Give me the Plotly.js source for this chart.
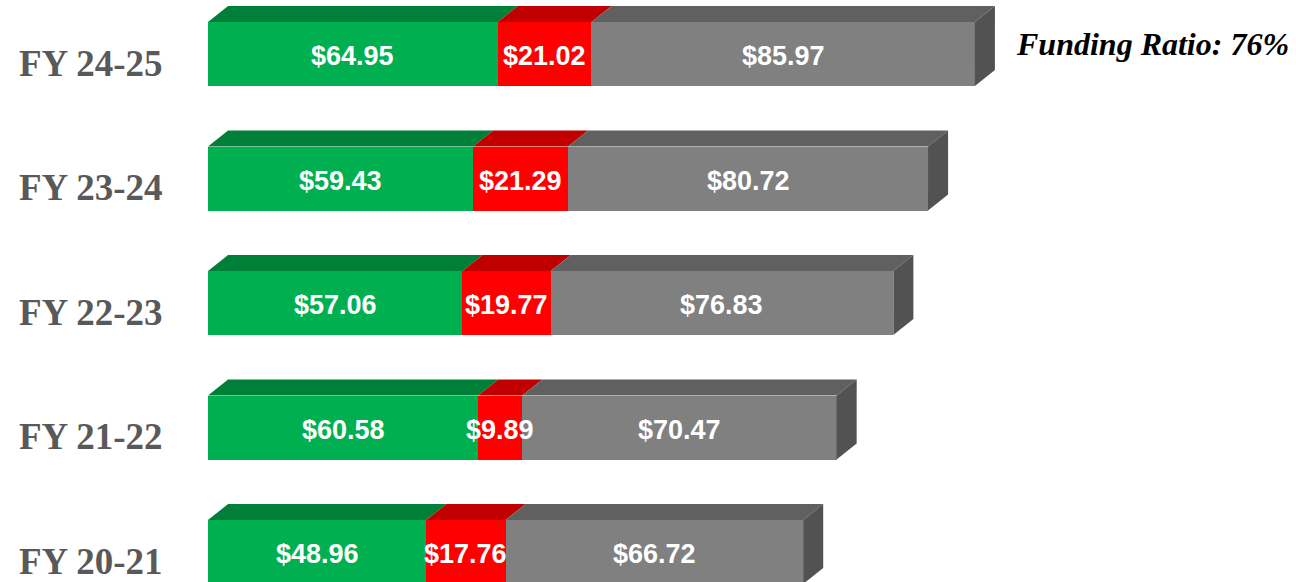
<!DOCTYPE html>
<html>
<head>
<meta charset="utf-8">
<script src="https://cdn.plot.ly/plotly-3.0.1.min.js"></script>
<style>
html,body{margin:0;padding:0;background:#fff;}
#chart{width:1296px;height:582px;}
</style>
</head>
<body>
<div id="chart"></div>
<script>
// ---- Data ----
const categories = ['FY 20-21', 'FY 21-22', 'FY 22-23', 'FY 23-24', 'FY 24-25'];
const assets      = [48.96, 60.58, 57.06, 59.43, 64.95];
const unfunded    = [17.76,  9.89, 19.77, 21.29, 21.02];
const liabilities = [66.72, 70.47, 76.83, 80.72, 85.97];
const fundingRatioText = 'Funding Ratio: 76%';

// ---- Styling ----
const frontColors = ['#00B050', '#FF0000', '#808080'];
const topColors   = ['#007F39', '#C00000', '#606060'];
const sideColor   = '#525252';
const barWidth = 0.514;   // in category units
const depthX = 4.5;       // in value units
const depthY = 0.1285;    // in category units

const yIdx = categories.map((_, i) => i);
const series = [assets, unfunded, liabilities];

const traces = series.map((vals, s) => ({
  type: 'bar',
  orientation: 'h',
  y: yIdx,
  x: vals,
  width: barWidth,
  marker: {color: frontColors[s], line: {width: 0}},
  hoverinfo: 'none',
  showlegend: false
}));

// 3D faces and value labels built from the data
const shapes = [];
const annotations = [];
yIdx.forEach(i => {
  let x0 = 0;
  const top = i + barWidth / 2;
  const bot = i - barWidth / 2;
  series.forEach((vals, s) => {
    const x1 = x0 + vals[i];
    shapes.push({
      type: 'path', xref: 'x', yref: 'y', layer: 'above',
      path: `M ${x0} ${top} L ${x1} ${top} L ${x1 + depthX} ${top + depthY} L ${x0 + depthX} ${top + depthY} Z`,
      fillcolor: topColors[s], line: {width: 0}
    });
    annotations.push({
      xref: 'x', yref: 'y', x: (x0 + x1) / 2, y: i,
      xanchor: 'center', yanchor: 'middle', yshift: -2,
      text: '<b>$' + vals[i].toFixed(2) + '</b>', showarrow: false,
      font: {family: 'Liberation Sans, Arial, sans-serif', size: 27, color: '#ffffff'}
    });
    x0 = x1;
  });
  shapes.push({
    type: 'path', xref: 'x', yref: 'y', layer: 'above',
    path: `M ${x0} ${bot} L ${x0} ${top} L ${x0 + depthX} ${top + depthY} L ${x0 + depthX} ${bot + depthY} Z`,
    fillcolor: sideColor, line: {width: 0}
  });
});

categories.forEach((c, i) => annotations.push({
  xref: 'paper', yref: 'y',
  x: -43 / 1088, y: i, xanchor: 'right', yanchor: 'middle',
  yshift: -9,
  text: '<b>' + c + '</b>', showarrow: false,
  font: {family: 'Liberation Serif, Times New Roman, serif', size: 37, color: '#595959'}
}));
annotations.push({
  xref: 'paper', yref: 'paper',
  x: (1152 - 208) / 1088, y: 1 - 44 / 582, xanchor: 'center', yanchor: 'middle',
  text: '<b><i>' + fundingRatioText + '</i></b>', showarrow: false,
  font: {family: 'Liberation Serif, Times New Roman, serif', size: 32, color: '#000000'}
});

const layout = {
  width: 1296, height: 582,
  margin: {l: 208, r: 0, t: 0, b: 0, pad: 0},
  paper_bgcolor: '#ffffff', plot_bgcolor: '#ffffff',
  barmode: 'stack',
  showlegend: false,
  xaxis: {range: [0, 1088 / 4.46], visible: false, fixedrange: true},
  yaxis: {
    range: [-0.241, 4.434],
    tickvals: yIdx, ticktext: categories,
    showticklabels: false, showgrid: false, zeroline: false, showline: false,
    fixedrange: true
  },
  shapes: shapes,
  annotations: annotations
};

Plotly.newPlot('chart', traces, layout, {displayModeBar: false, staticPlot: true});
</script>
</body>
</html>
